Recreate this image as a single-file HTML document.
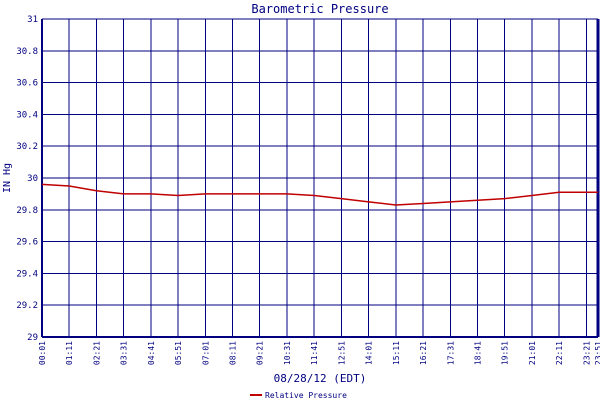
<!DOCTYPE html>
<html><head><meta charset="utf-8"><style>
body{margin:0;background:#fff;}
svg text{font-family:"DejaVu Sans Mono","Liberation Mono",monospace;fill:#000080;}
</style></head><body>
<svg id="chart" width="600" height="400" xmlns="http://www.w3.org/2000/svg">
<rect width="600" height="400" fill="#fff"/>
<text x="320" y="13" font-size="12" text-anchor="middle">Barometric Pressure</text>
<g id="grid" shape-rendering="crispEdges"></g><g id="labels"></g>
<path id="series" fill="none" stroke="#c00000" stroke-width="1.5"/>
<text x="10" y="178" font-size="10" text-anchor="middle" transform="rotate(-90 10 178)">IN Hg</text>
<text x="320" y="382" font-size="11" text-anchor="middle">08/28/12 (EDT)</text>
<line x1="250" y1="395" x2="262" y2="395" stroke="#c00000" stroke-width="2"/>
<text x="265" y="398" font-size="8">Relative Pressure</text>
</svg>
<script>
const timeLabels=["00:01","01:11","02:21","03:31","04:41","05:51","07:01","08:11","09:21","10:31","11:41","12:51","14:01","15:11","16:21","17:31","18:41","19:51","21:01","22:11","23:21","23:51"];
const pressure=[29.96,29.95,29.92,29.90,29.90,29.89,29.90,29.90,29.90,29.90,29.89,29.87,29.85,29.83,29.84,29.85,29.86,29.87,29.89,29.91,29.91,29.91];
const yTicks=[29,29.2,29.4,29.6,29.8,30,30.2,30.4,30.6,30.8,31];
const NS="http://www.w3.org/2000/svg";
const X0=42,X1=598,Y0=337,Y1=19;
function toMin(t){const p=t.split(":");return +p[0]*60+ +p[1];}
const tMin=toMin(timeLabels[0]),tMax=toMin(timeLabels[timeLabels.length-1]);
function xs(t){return X0+(toMin(t)-tMin)/(tMax-tMin)*(X1-X0);}
function ys(v){return Y0-(v-29)/2*(Y0-Y1);}
const grid=document.getElementById('grid'),labels=document.getElementById('labels');
function mk(tag,attrs,parent){const e=document.createElementNS(NS,tag);for(const k in attrs)e.setAttribute(k,attrs[k]);parent.appendChild(e);return e;}
yTicks.forEach(v=>{
 const l=mk('line',{x1:X0,x2:X1,y1:ys(v),y2:ys(v),stroke:'#000080','stroke-width':1},grid);
 
 
 const t=mk('text',{x:38,y:ys(v)+3,'font-size':9,'text-anchor':'end'},labels);
 t.textContent=String(v);
 
 
});
timeLabels.forEach(tl=>{
 const x=xs(tl);
 const l=mk('line',{x1:x,x2:x,y1:Y1,y2:Y0,stroke:'#000080','stroke-width':1},grid);
 
 
 const t=mk('text',{x:0,y:0,'font-size':8,'text-anchor':'end',transform:`translate(${x+3},${Y0+4}) rotate(-90)`},labels);
 t.textContent=tl;
 
 
});
mk('line',{x1:X0,x2:X0,y1:Y1,y2:Y0,stroke:'#000080','stroke-width':2},grid);
mk('line',{x1:X1,x2:X1,y1:Y1,y2:Y0,stroke:'#000080','stroke-width':3},grid);
mk('line',{x1:X0,x2:X1,y1:Y0,y2:Y0,stroke:'#000080','stroke-width':2},grid);
let d='';
pressure.forEach((v,i)=>{const x=xs(timeLabels[i]),y=ys(v);d+=(i?'L':'M')+x+' '+y+' ';});
document.getElementById('series').setAttribute('d',d);
</script>
</body></html>
